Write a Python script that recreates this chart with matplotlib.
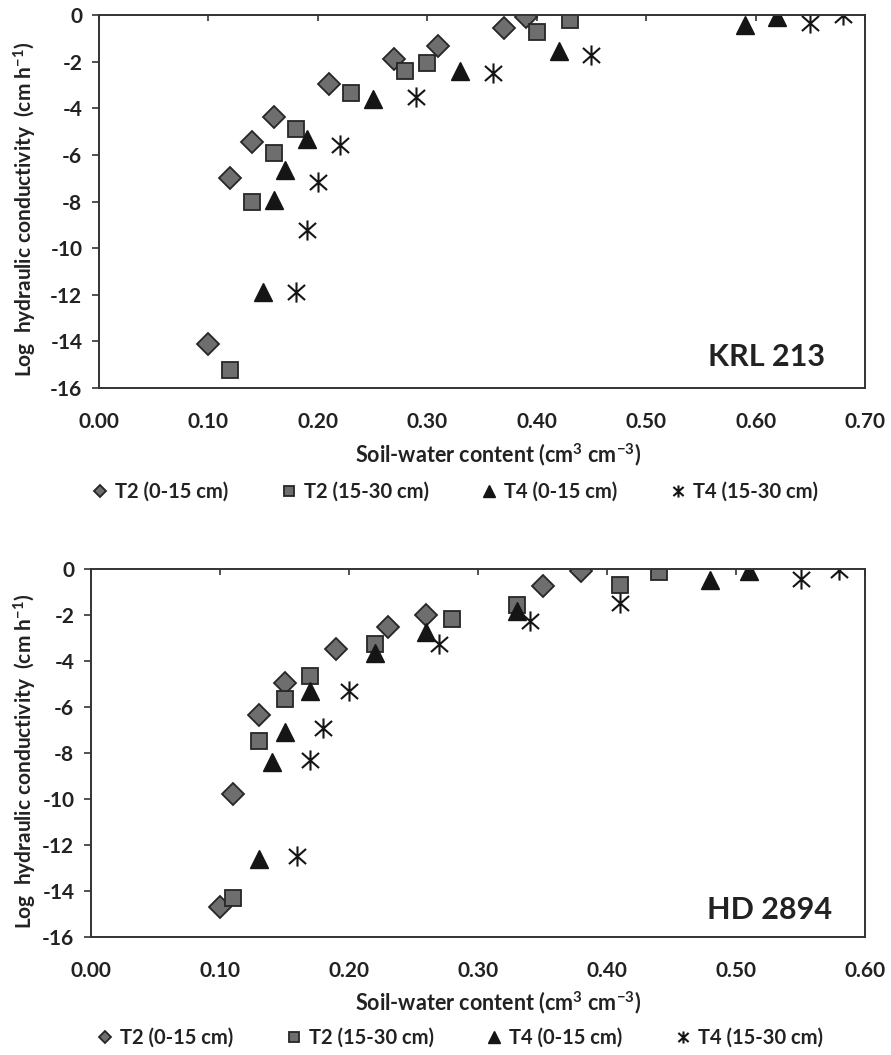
import matplotlib
matplotlib.use("Agg")
import matplotlib.pyplot as plt
from matplotlib.path import Path
from matplotlib.lines import Line2D

plt.rcParams['font.family'] = ['Lato', 'DejaVu Sans']
plt.rcParams['axes.unicode_minus'] = False
plt.rcParams['mathtext.fontset'] = 'custom'
plt.rcParams['mathtext.rm'] = 'Lato'
plt.rcParams['mathtext.bf'] = 'Lato:bold'
plt.rcParams['mathtext.it'] = 'Lato:italic'

# ---------------- data: KRL 213 ----------------
krl_t2_0_15_x = [0.10, 0.12, 0.14, 0.16, 0.21, 0.27, 0.31, 0.37, 0.39]
krl_t2_0_15_y = [-14.13, -7.0, -5.44, -4.36, -2.97, -1.9, -1.32, -0.57, -0.1]
krl_t2_15_30_x = [0.12, 0.14, 0.16, 0.18, 0.23, 0.28, 0.30, 0.40, 0.43]
krl_t2_15_30_y = [-15.24, -8.0, -5.9, -4.9, -3.33, -2.4, -2.07, -0.72, -0.21]
krl_t4_0_15_x = [0.15, 0.16, 0.17, 0.19, 0.25, 0.33, 0.42, 0.59, 0.62]
krl_t4_0_15_y = [-11.87, -7.94, -6.65, -5.33, -3.62, -2.39, -1.53, -0.43, -0.1]
krl_t4_15_30_x = [0.18, 0.19, 0.20, 0.22, 0.29, 0.36, 0.45, 0.65, 0.68]
krl_t4_15_30_y = [-11.87, -9.23, -7.15, -5.58, -3.5, -2.5, -1.72, -0.36, 0.0]

# ---------------- data: HD 2894 ----------------
hd_t2_0_15_x = [0.10, 0.11, 0.13, 0.15, 0.19, 0.23, 0.26, 0.35, 0.38]
hd_t2_0_15_y = [-14.7, -9.8, -6.35, -4.97, -3.47, -2.54, -2.02, -0.73, -0.1]
hd_t2_15_30_x = [0.11, 0.13, 0.15, 0.17, 0.22, 0.28, 0.33, 0.41, 0.44]
hd_t2_15_30_y = [-14.3, -7.48, -5.66, -4.65, -3.27, -2.18, -1.58, -0.68, -0.15]
hd_t4_0_15_x = [0.13, 0.14, 0.15, 0.17, 0.22, 0.26, 0.33, 0.48, 0.51]
hd_t4_0_15_y = [-12.6, -8.38, -7.07, -5.3, -3.66, -2.72, -1.82, -0.47, -0.1]
hd_t4_15_30_x = [0.16, 0.17, 0.18, 0.20, 0.27, 0.34, 0.41, 0.55, 0.58]
hd_t4_15_30_y = [-12.49, -8.3, -6.9, -5.3, -3.27, -2.25, -1.48, -0.44, -0.06]

series_labels = ['T2 (0-15 cm)', 'T2 (15-30 cm)', 'T4 (0-15 cm)', 'T4 (15-30 cm)']
y_ticks = [-16, -14, -12, -10, -8, -6, -4, -2, 0]
krl_x_ticks = [0.0, 0.1, 0.2, 0.3, 0.4, 0.5, 0.6, 0.7]
hd_x_ticks = [0.0, 0.1, 0.2, 0.3, 0.4, 0.5, 0.6]

# star marker (vertical bar + X)
star = Path([(0, -1), (0, 1), (-0.85, -0.75), (0.85, 0.75), (-0.85, 0.75), (0.85, -0.75)],
            [Path.MOVETO, Path.LINETO, Path.MOVETO, Path.LINETO, Path.MOVETO, Path.LINETO])

GRAY = '#6e6e6e'
EDGE = '#262626'
BLACK = '#151515'
styles = [
    dict(marker='D', ms=11, mfc=GRAY, mec=EDGE, mew=1.3),
    dict(marker='s', ms=12, mfc=GRAY, mec=EDGE, mew=1.3),
    dict(marker='^', ms=13.5, mfc=BLACK, mec=BLACK, mew=1.0),
    dict(marker=star, ms=14.5, mfc='none', mec=BLACK, mew=1.5),
]

W, H = 891, 1055
fig = plt.figure(figsize=(W / 100, H / 100), dpi=100)


def make_panel(rect, xs, ys, xticks, xmax, name, name_pos, xlabel_y, legend_y, legend_x):
    l, t, r, b = rect
    ax = fig.add_axes([l / W, 1 - b / H, (r - l) / W, (b - t) / H])
    for x, y, st in zip(xs, ys, styles):
        ax.plot(x, y, ls='none', **st)
    ax.set_xlim(0, xmax)
    ax.set_ylim(-16, 0)
    ax.set_yticks(y_ticks)
    ax.set_yticklabels([str(v) for v in y_ticks])
    ax.set_xticks(xticks)
    ax.set_xticklabels(['%.2f' % v for v in xticks])
    ax.tick_params(axis='x', bottom=False, top=True, labelbottom=True, labeltop=False,
                   direction='in', length=4.5, width=1.2, color='#333333',
                   labelsize=15, pad=17, labelcolor='#222222')
    ax.tick_params(axis='y', direction='out', length=5, width=1.2, color='#333333',
                   labelsize=15, pad=7, labelcolor='#222222')
    for lab in ax.get_xticklabels() + ax.get_yticklabels():
        lab.set_fontweight('bold')
    for sp in ax.spines.values():
        sp.set_linewidth(1.4)
        sp.set_color('#333333')
    ax.text(name_pos[0], name_pos[1], name, transform=ax.transAxes, ha='right',
            va='baseline', fontsize=22, fontweight='bold', color='#222222')
    fig.text(25 / W, 1 - ((t + b) / 2 + 8) / H,
             r'Log  hydraulic conductivity  (cm h$^{\mathbf{-1}}$)',
             rotation=90, ha='center', va='center', fontsize=15,
             fontweight='bold', color='#222222')
    fig.text(498 / W, 1 - xlabel_y / H, r'Soil-water content (cm$^{\mathbf{3}}$ cm$^{\mathbf{-3}}$)',
             ha='center', va='center', fontsize=15.5, fontweight='bold', color='#222222')
    handles = [Line2D([], [], ls='none', **st) for st in styles]
    fig.legend(handles, series_labels, loc='center', bbox_to_anchor=(legend_x / W, 1 - legend_y / H),
               ncol=4, frameon=False, markerscale=0.6, handlelength=0.8, handletextpad=0.35,
               columnspacing=2.6, prop=dict(size=14.5, weight='bold'), labelcolor='#222222')
    return ax


make_panel((99, 15, 865, 388),
           [krl_t2_0_15_x, krl_t2_15_30_x, krl_t4_0_15_x, krl_t4_15_30_x],
           [krl_t2_0_15_y, krl_t2_15_30_y, krl_t4_0_15_y, krl_t4_15_30_y],
           krl_x_ticks, 0.70, 'KRL 213', (0.948, 0.059), 455, 492, 455)
make_panel((91, 569, 865, 937),
           [hd_t2_0_15_x, hd_t2_15_30_x, hd_t4_0_15_x, hd_t4_15_30_x],
           [hd_t2_0_15_y, hd_t2_15_30_y, hd_t4_0_15_y, hd_t4_15_30_y],
           hd_x_ticks, 0.60, 'HD 2894', (0.958, 0.049), 1003, 1038, 460)

fig.savefig('out.png', dpi=100)
